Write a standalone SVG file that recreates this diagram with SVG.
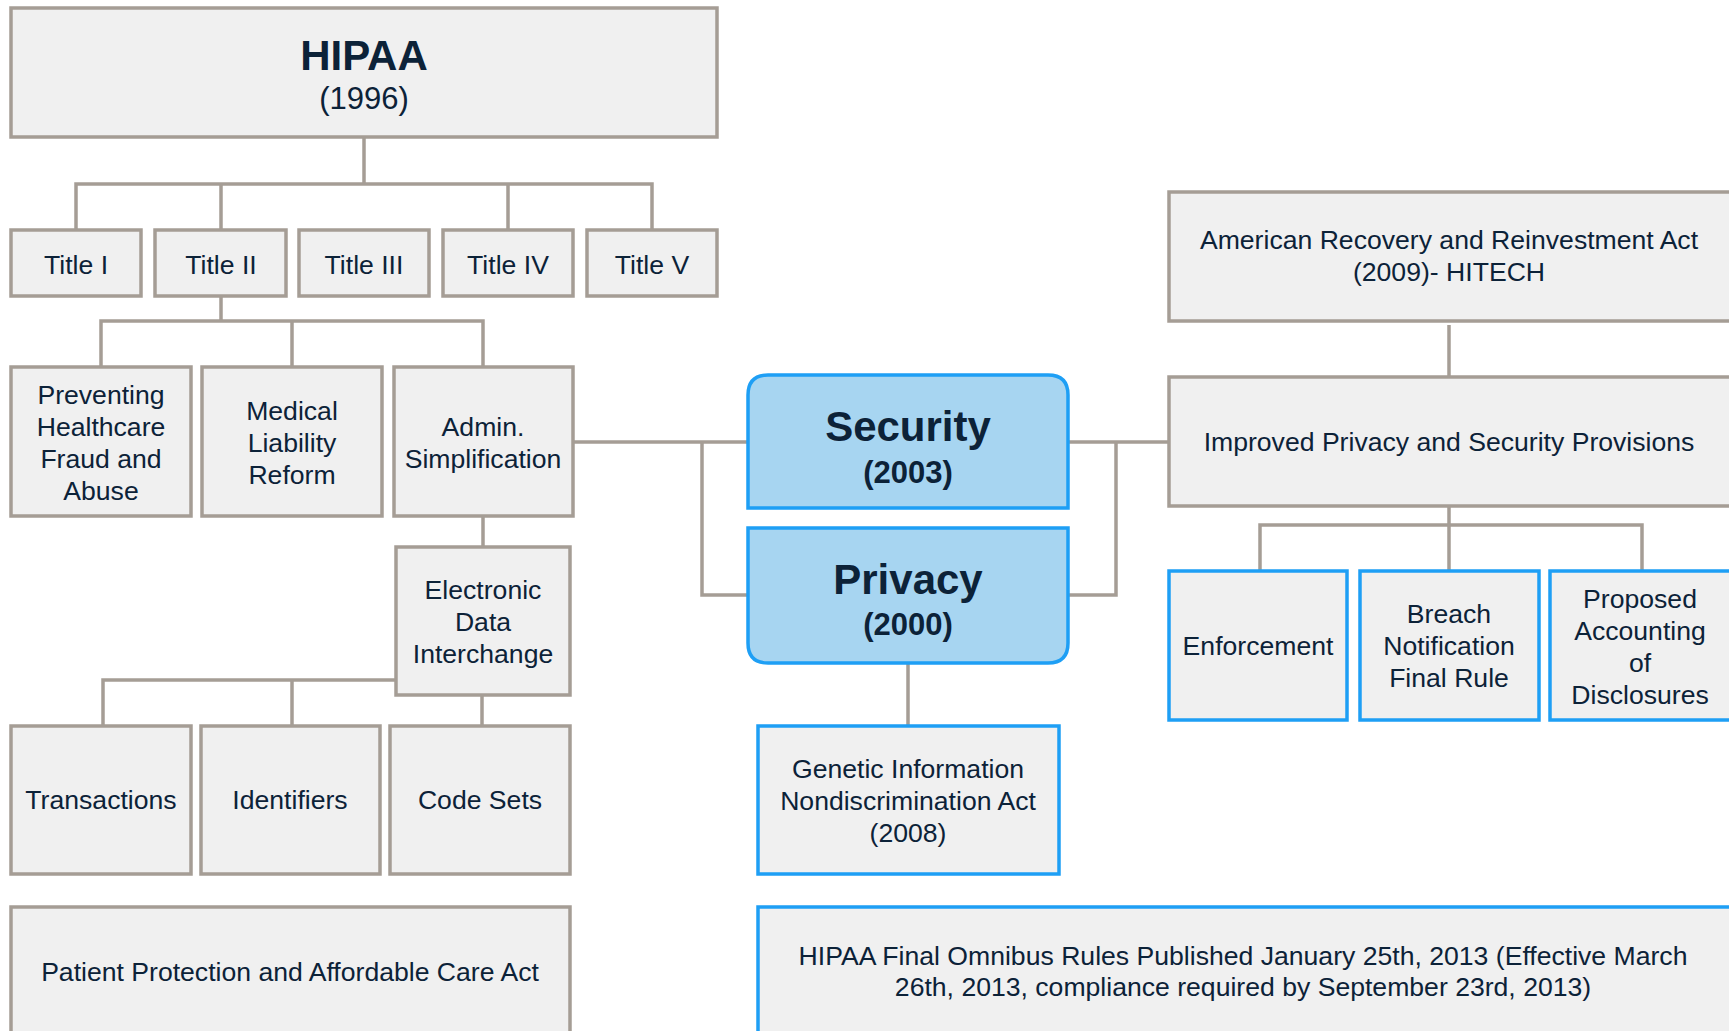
<svg xmlns="http://www.w3.org/2000/svg" width="1729" height="1031" viewBox="0 0 1729 1031">
<style>
.g{fill:#f0f0f0;stroke:#a59d95;stroke-width:3.5}
.b{fill:#f0f0f0;stroke:#1e9ff5;stroke-width:3.5}
.lb{fill:#a7d5f1;stroke:#1e9ff5;stroke-width:3.5}
text{font-family:"Liberation Sans",Arial,sans-serif;fill:#0c2238;text-anchor:middle;font-size:26.6px}
.big{font-size:42px;font-weight:bold}
.yr{font-size:31px}
.yb{font-size:31px;font-weight:bold}
.c{fill:none;stroke:#a59d95;stroke-width:3.5}
</style>
<rect width="1729" height="1031" fill="#ffffff"/>
<g id="connectors">
<path class="c" d="M364 137V184M76 230V184H652V230M221 184V230M508 184V230"/>
<path class="c" d="M221 296V321M101 367V321H483V367M292 321V367"/>
<path class="c" d="M483 516V547"/>
<path class="c" d="M396 680H103V726M292 680V726M482 695V726"/>
<path class="c" d="M573 442H748M702 442V595H748"/>
<path class="c" d="M1068 442H1169M1116 442V595H1068"/>
<path class="c" d="M908 663V726"/>
<path class="c" d="M1449 325V377"/>
<path class="c" d="M1449 506V571M1260 571V525H1642V571"/>
</g>
<g id="hipaa"><rect class="g" x="11" y="8" width="706" height="129"/><text x="364" y="70" class="big">HIPAA</text><text x="364" y="109" class="yr">(1996)</text></g>
<g id="title1"><rect class="g" x="11" y="230" width="130" height="66"/><text x="76" y="274">Title I</text></g>
<g id="title2"><rect class="g" x="155" y="230" width="131" height="66"/><text x="221" y="274">Title II</text></g>
<g id="title3"><rect class="g" x="299" y="230" width="130" height="66"/><text x="364" y="274">Title III</text></g>
<g id="title4"><rect class="g" x="443" y="230" width="130" height="66"/><text x="508" y="274">Title IV</text></g>
<g id="title5"><rect class="g" x="587" y="230" width="130" height="66"/><text x="652" y="274">Title V</text></g>
<g id="preventing"><rect class="g" x="11" y="367" width="180" height="149"/><text x="101" y="404">Preventing</text><text x="101" y="436">Healthcare</text><text x="101" y="468">Fraud and</text><text x="101" y="500">Abuse</text></g>
<g id="medical"><rect class="g" x="202" y="367" width="180" height="149"/><text x="292" y="420">Medical</text><text x="292" y="452">Liability</text><text x="292" y="484">Reform</text></g>
<g id="admin"><rect class="g" x="394" y="367" width="179" height="149"/><text x="483" y="436">Admin.</text><text x="483" y="468">Simplification</text></g>
<g id="edi"><rect class="g" x="396" y="547" width="174" height="148"/><text x="483" y="599">Electronic</text><text x="483" y="631">Data</text><text x="483" y="663">Interchange</text></g>
<g id="transactions"><rect class="g" x="11" y="726" width="180" height="148"/><text x="101" y="809">Transactions</text></g>
<g id="identifiers"><rect class="g" x="201" y="726" width="179" height="148"/><text x="290" y="809">Identifiers</text></g>
<g id="codesets"><rect class="g" x="390" y="726" width="180" height="148"/><text x="480" y="809">Code Sets</text></g>
<g id="ppaca"><rect class="g" x="11" y="907" width="559" height="140"/><text x="290" y="981">Patient Protection and Affordable Care Act</text></g>
<g id="security"><path class="lb" d="M748 508V395Q748 375 768 375H1048Q1068 375 1068 395V508Z"/><text x="908" y="441" class="big">Security</text><text x="908" y="483" class="yb">(2003)</text></g>
<g id="privacy"><path class="lb" d="M748 528H1068V643Q1068 663 1048 663H768Q748 663 748 643Z"/><text x="908" y="594" class="big">Privacy</text><text x="908" y="635" class="yb">(2000)</text></g>
<g id="gina"><rect class="b" x="758" y="726" width="301" height="148"/><text x="908" y="778">Genetic Information</text><text x="908" y="810">Nondiscrimination Act</text><text x="908" y="842">(2008)</text></g>
<g id="arra"><rect class="g" x="1169" y="192" width="563" height="129"/><text x="1449" y="249">American Recovery and Reinvestment Act</text><text x="1449" y="281">(2009)- HITECH</text></g>
<g id="improved"><rect class="g" x="1169" y="377" width="563" height="129"/><text x="1449" y="451">Improved Privacy and Security Provisions</text></g>
<g id="enforcement"><rect class="b" x="1169" y="571" width="178" height="149"/><text x="1258" y="655">Enforcement</text></g>
<g id="breach"><rect class="b" x="1360" y="571" width="179" height="149"/><text x="1449" y="623">Breach</text><text x="1449" y="655">Notification</text><text x="1449" y="687">Final Rule</text></g>
<g id="proposed"><rect class="b" x="1550" y="571" width="182" height="149"/><text x="1640" y="608">Proposed</text><text x="1640" y="640">Accounting</text><text x="1640" y="672">of</text><text x="1640" y="704">Disclosures</text></g>
<g id="omnibus"><rect class="b" x="758" y="907" width="974" height="140"/><text x="1243" y="965">HIPAA Final Omnibus Rules Published January 25th, 2013 (Effective March</text><text x="1243" y="996">26th, 2013, compliance required by September 23rd, 2013)</text></g>
</svg>
